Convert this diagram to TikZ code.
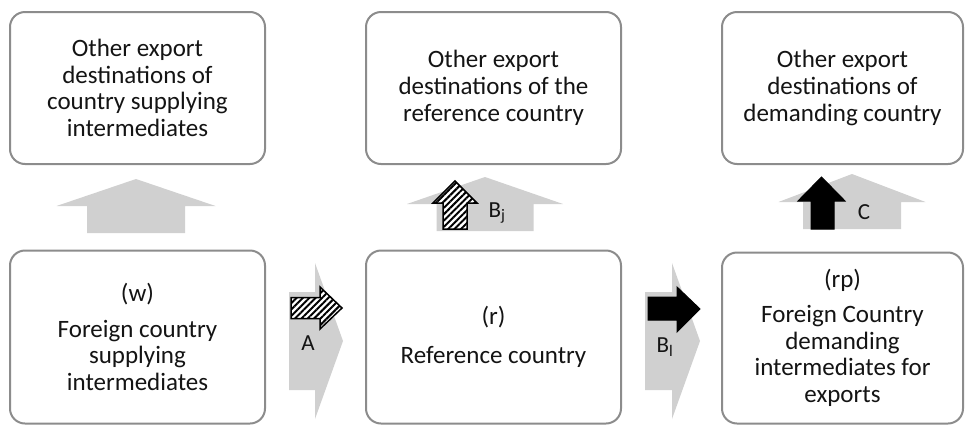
\documentclass[tikz,border=0pt]{standalone}
\usepackage{fontspec}
\setmainfont{Carlito}
\usetikzlibrary{patterns.meta}
\definecolor{boxline}{RGB}{140,140,140}
\definecolor{arrowgray}{RGB}{208,208,208}
\definecolor{txt}{RGB}{20,20,20}
\begin{document}
\begin{tikzpicture}[x=1pt,y=-1pt,
  box/.style={draw=boxline, line width=2pt, rounded corners=15pt, fill=white, align=center, text=txt,
    font=\fontsize{25}{26.7}\selectfont, inner sep=0pt},
  bigarrow/.style={fill=arrowgray, draw=none},
  hatcharrow/.style={draw=black, line width=1.5pt, line join=miter, preaction={fill=white},
    pattern={Lines[angle=45,distance=4.5pt,line width=2pt]}},
  solidarrow/.style={fill=black, draw=black, line width=1pt, line join=miter},
  lbl/.style={text=txt, font=\fontsize{23}{26}\selectfont, inner sep=0pt}]
\useasboundingbox (0,0) rectangle (967,429);

% big grey block arrows
\fill[bigarrow] (87,233) -- (87,206) -- (56.5,206) -- (136,179) -- (215.5,206) -- (185,206) -- (185,233) -- cycle;
\fill[bigarrow] (436.5,231) -- (436.5,204) -- (407,204) -- (485,177) -- (563,204) -- (533.5,204) -- (533.5,231) -- cycle;
\fill[bigarrow] (803,229) -- (803,202) -- (778.5,202) -- (852,174) -- (925.5,202) -- (901,202) -- (901,229) -- cycle;
\fill[bigarrow] (289,292) -- (315,292) -- (315,263) -- (343,341) -- (315,419) -- (315,390) -- (289,390) -- cycle;
\fill[bigarrow] (645,292) -- (672,292) -- (672,263) -- (700,341) -- (672,419) -- (672,390) -- (645,390) -- cycle;

% boxes
\node[box, minimum width=255, minimum height=152] (t1) at (137.5,88)
  {Other export\\destinations of\\country supplying\\intermediates};
\node[box, minimum width=255, minimum height=152] (t2) at (493.5,88)
  {Other export\\destinations of the\\reference country};
\node[box, minimum width=241, minimum height=152] (t3) at (842.5,88)
  {Other export\\destinations of\\demanding country};
\node[box, minimum width=255, minimum height=173] (b1) at (137.5,337)
  {(w)\\[9pt]Foreign country\\supplying\\intermediates};
\node[box, minimum width=255, minimum height=173] (b2) at (493.5,337)
  {(r)\\[12pt]Reference country};
\node[box, minimum width=241, minimum height=171] (b3) at (842.5,338)
  {(rp)\\[8pt]Foreign Country\\demanding\\intermediates for\\exports};

% small arrows
\draw[hatcharrow] (443,229) -- (443,203) -- (433,203) -- (455,181) -- (477,203) -- (467,203) -- (467,229) -- cycle;
\draw[solidarrow] (811,229) -- (811,201) -- (798,201) -- (821.5,177) -- (845,201) -- (834,201) -- (834,229) -- cycle;
\draw[hatcharrow] (291,297.5) -- (320,297.5) -- (320,287) -- (342,308) -- (320,329) -- (320,318.5) -- (291,318.5) -- cycle;
\draw[solidarrow] (648,297) -- (677,297) -- (677,287) -- (700,309) -- (677,332) -- (677,320) -- (648,320) -- cycle;

% labels
\node[lbl] (la) at (308,343) {A};
\node[lbl] (lbl) at (665,347) {B\textsubscript{l}};
\node[lbl] (lbj) at (497,213) {B\textsubscript{j}};
\node[lbl] (lc) at (864,212) {C};
\end{tikzpicture}
\end{document}
